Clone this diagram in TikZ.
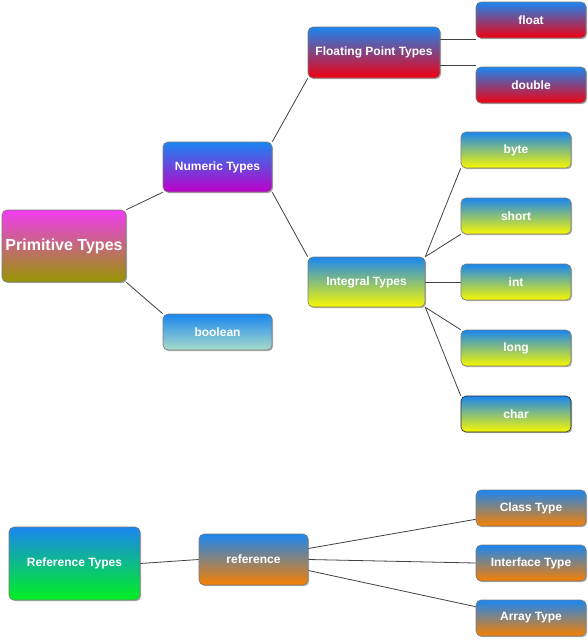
\documentclass[tikz,border=0pt]{standalone}
\usepackage{fontspec}
\setmainfont{Liberation Sans}
\usetikzlibrary{shadows,backgrounds,calc}
\definecolor{topblue}{HTML}{1A86F0}
\definecolor{cmag}{HTML}{F23CF2}
\definecolor{colive}{HTML}{969600}
\definecolor{cpurple}{HTML}{C000C8}
\definecolor{cteal}{HTML}{A8DCC8}
\definecolor{cred}{HTML}{F20010}
\definecolor{cyellow}{HTML}{F8F800}
\definecolor{cgreen}{HTML}{00F020}
\definecolor{corange}{HTML}{F88000}
\definecolor{cborder}{HTML}{7A7A7A}
\definecolor{cline}{HTML}{404040}
\tikzset{
  box/.style={rectangle, rounded corners=5pt, draw=cborder, line width=0.6pt,
    text=white, font=\bfseries\fontsize{12}{14}\selectfont, inner sep=0pt,
    drop shadow={shadow xshift=1.2pt, shadow yshift=-1.2pt, opacity=0.3, fill=black}},
  sz/.style n args={2}{minimum width=#1pt, minimum height=#2pt},
  gblue/.style={top color=topblue, bottom color=#1},
  conn/.style={draw=cline, line width=0.8pt}
}
\begin{document}
\begin{tikzpicture}[x=1pt,y=-1pt]
\useasboundingbox (0,0) rectangle (588,640);
\node[box, sz={124}{72}, top color=cmag, bottom color=colive, font=\bfseries\fontsize{16}{18}\selectfont] (prim) at (64,246) {Primitive Types};
\node[box, sz={109}{50}, gblue=cpurple] (num) at (217.5,167) {Numeric Types};
\node[box, sz={109}{36}, gblue=cteal] (bool) at (217.5,332) {boolean};
\node[box, sz={132}{51}, gblue=cred] (fpt) at (374,52.5) {Floating Point Types};
\node[box, sz={110}{36}, gblue=cred] (float) at (531,20) {float};
\node[box, sz={110}{36}, gblue=cred] (double) at (531,85) {double};
\node[box, sz={117}{50}, gblue=cyellow] (integ) at (366.5,282) {Integral Types};
\node[box, sz={110}{36}, gblue=cyellow] (byte) at (516,150) {byte};
\node[box, sz={110}{36}, gblue=cyellow] (short) at (516,216) {short};
\node[box, sz={110}{36}, gblue=cyellow] (int) at (516,282) {int};
\node[box, sz={110}{36}, gblue=cyellow] (long) at (516,348) {long};
\node[box, sz={110}{36}, gblue=cyellow, draw=black!85] (char) at (516,414) {char};
\node[box, sz={131}{73}, gblue=cgreen] (reft) at (74.5,563.5) {Reference Types};
\node[box, sz={109}{51}, gblue=corange] (ref) at (253.5,559.5) {reference};
\node[box, sz={110}{36}, gblue=corange] (class) at (531,508) {Class Type};
\node[box, sz={110}{36}, gblue=corange] (iface) at (531,563) {Interface Type};
\node[box, sz={110}{36}, gblue=corange] (array) at (531,618) {Array Type};
\begin{scope}[on background layer]
\draw[conn] (prim.north east) -- (num.south west);
\draw[conn] (prim.south east) -- (bool.north west);
\draw[conn] (num.north east) -- (fpt.south west);
\draw[conn] (num.south east) -- (integ.north west);
\coordinate (fa) at ($(fpt.east |- float.south)+(0,1)$);
\coordinate (fb) at ($(float.south west)+(0,1)$);
\draw[conn] (fa) -- (fb);
\coordinate (da) at ($(fpt.east |- double.north)+(0,-1)$);
\coordinate (db) at ($(double.north west)+(0,-1)$);
\draw[conn] (da) -- (db);
\draw[conn] (integ.north east) -- (byte.south west);
\draw[conn] (integ.north east) -- (short.south west);
\draw[conn] (integ.east) -- (int.west);
\draw[conn] (integ.south east) -- (long.north west);
\draw[conn] (integ.south east) -- (char.north west);
\draw[conn] (reft.east) -- (ref.west);
\coordinate (ra) at ($(ref.east)+(0,-11)$);
\coordinate (rc) at ($(ref.east)+(0,11)$);
\coordinate (ca) at ($(class.south west)+(0,-7)$);
\coordinate (aa) at ($(array.north west)+(0,7)$);
\draw[conn] (ra) -- (ca);
\draw[conn] (ref.east) -- (iface.west);
\draw[conn] (rc) -- (aa);
\end{scope}
\end{tikzpicture}
\end{document}
